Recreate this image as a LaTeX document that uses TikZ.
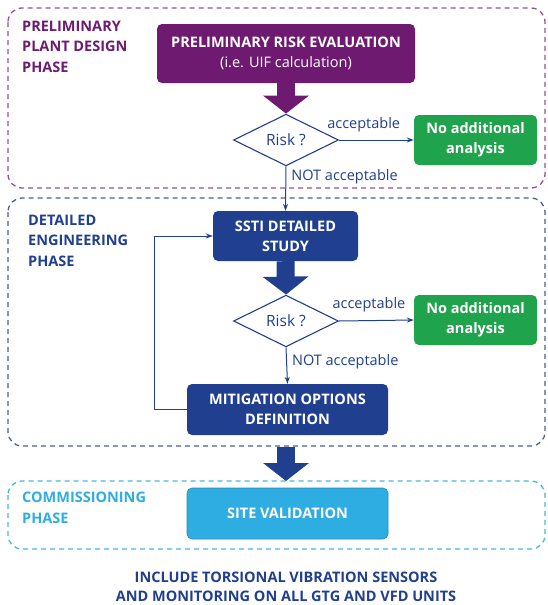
\documentclass[tikz,border=0pt]{standalone}
\usepackage{fontspec}
\setmainfont{Open Sans}
\usetikzlibrary{shapes.geometric,arrows.meta}

\definecolor{gePurple}{HTML}{6E1A70}
\definecolor{gePurpleLine}{HTML}{97509A}
\definecolor{geNavy}{HTML}{213F8F}
\definecolor{geNavyLine}{HTML}{4A5E97}
\definecolor{geGreen}{HTML}{1FA34C}
\definecolor{geCyan}{HTML}{2EADE3}
\definecolor{geCyanLine}{HTML}{45B7E3}

\tikzset{
  phasebox/.style={dash pattern=on 5pt off 4pt, line width=1.3pt, rounded corners=14pt},
  phaselabel/.style={anchor=north west, align=left, inner sep=0pt,
    font=\fontsize{14.5}{20.3}\selectfont\bfseries},
  stepbox/.style={rectangle, rounded corners=5pt, text=white, align=center,
    inner sep=0pt, font=\fontsize{14.5}{20}\selectfont\bfseries},
  decision/.style={diamond, draw=geNavy, fill=white, line width=1.1pt, inner sep=0pt,
    minimum width=105pt, minimum height=48pt, text=geNavy,
    font=\fontsize{15.5}{17}\selectfont},
  bigarrow/.style={line width=18pt, -{Triangle[width=45pt,length=18pt]}},
  flow/.style={geNavy, line width=1pt, -{Stealth[length=7pt,width=5pt]}},
  flowlabel/.style={text=geNavy, inner sep=2pt, font=\fontsize{14.5}{17}\selectfont}
}

\begin{document}
\begin{tikzpicture}[x=1pt,y=-1pt]

  \useasboundingbox (0,0) rectangle (547,605);

  % Phase frames
  \draw [phasebox, gePurpleLine] (8,8) rectangle (545,188);
  \draw [phasebox, geNavyLine] (8,198) rectangle (545,446);
  \draw [phasebox, geCyanLine] (8,481) rectangle (545,549);

  \node [phaselabel, text=gePurple] (lblprelim) at (22,21) {PRELIMINARY\\PLANT DESIGN\\PHASE};
  \node [phaselabel, text=geNavy] (lbldetail) at (28,215) {DETAILED\\ENGINEERING\\PHASE};
  \node [phaselabel, text=geCyan] (lblcomm) at (22,492) {COMMISSIONING\\PHASE};

  % Steps
  \node [stepbox, fill=gePurple, minimum width=258pt, minimum height=59pt] (prelim) at (286,53.5)
    {PRELIMINARY RISK EVALUATION\\{\mdseries (i.e. UIF calculation)}};
  \node [decision] (risk1) at (286,140) {Risk ?};
  \node [stepbox, fill=geGreen, minimum width=123pt, minimum height=50pt] (noadd1) at (475.5,140)
    {No additional\\analysis};

  \node [stepbox, fill=geNavy, minimum width=145pt, minimum height=50pt] (ssti) at (285.5,236)
    {SSTI DETAILED\\STUDY};
  \node [decision] (risk2) at (286,321) {Risk ?};
  \node [stepbox, fill=geGreen, minimum width=123pt, minimum height=50pt] (noadd2) at (475.5,320)
    {No additional\\analysis};
  \node [stepbox, fill=geNavy, minimum width=201pt, minimum height=51pt] (mitig) at (287.5,409.5)
    {MITIGATION OPTIONS\\DEFINITION};

  \node [stepbox, fill=geCyan, draw=geCyan!80!black, line width=0.6pt,
    minimum width=201pt, minimum height=51pt] (site) at (287.5,513.5) {SITE VALIDATION};

  \node [text=geNavy, align=center, font=\fontsize{14.5}{19.5}\selectfont\bfseries] (note) at (286,587)
    {INCLUDE TORSIONAL VIBRATION SENSORS\\AND MONITORING ON ALL GTG AND VFD UNITS};

  \coordinate (detailbot) at (286,447);
  \coordinate (commtop) at (286,481);

  % Draw connectors
  \draw [bigarrow, gePurple] (prelim.south) -- (risk1.north);
  \draw [flow] (risk1.east) -- node [flowlabel, above=6pt, pos=0.33] {acceptable} (noadd1.west);
  \draw [flow] (risk1.south) -- node [flowlabel, anchor=west, xshift=3pt, pos=0.23] {NOT acceptable} (ssti.north);

  \draw [bigarrow, geNavy] (ssti.south) -- (risk2.north);
  \draw [flow] (risk2.east) -- node [flowlabel, above=6pt, pos=0.4] {acceptable} (noadd2.west);
  \draw [flow] (risk2.south) -- node [flowlabel, anchor=west, xshift=3pt, pos=0.38] {NOT acceptable} (mitig.north);
  \draw [flow] (mitig.west) -- ++(-32,0) |- (ssti.west);

  \draw [bigarrow, geNavy] (detailbot) -- (commtop);

\end{tikzpicture}
\end{document}
